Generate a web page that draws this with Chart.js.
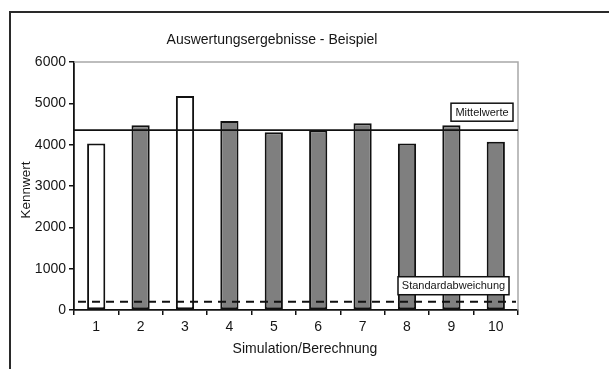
<!DOCTYPE html>
<html>
<head>
<meta charset="utf-8">
<script src="https://cdn.jsdelivr.net/npm/chart.js@4/dist/chart.umd.min.js"></script>
<style>
  html, body { margin: 0; padding: 0; background: #fff; }
  #wrap { position: relative; width: 609px; height: 369px; overflow: hidden; }
  #frame { position: absolute; left: 9px; top: 11px; width: 700px; height: 500px;
           border-left: 2px solid #2a2a2a; border-top: 2px solid #2a2a2a; }
  canvas { position: absolute; left: 0; top: 0; }
</style>
</head>
<body>
<div id="wrap">
  <div id="frame"></div>
  <canvas id="c" width="609" height="369"></canvas>
</div>
<script>
// Ergebnisse der einzelnen Simulationen
const kategorien = ['1', '2', '3', '4', '5', '6', '7', '8', '9', '10'];
const kennwerte = [4030, 4470, 5180, 4570, 4300, 4350, 4520, 4030, 4470, 4070];
// Läufe, die nicht in die Auswertung eingehen (weiße Balken)
const ausgeschlossen = ['1', '3'];
const mittelwert = 4350;
const standardabweichung = 200;
const yTicks = [0, 1000, 2000, 3000, 4000, 5000, 6000];

const FONT = '"Liberation Sans", Arial, sans-serif';
const TEXT = '#151515';

const fuellung = kategorien.map(k => ausgeschlossen.includes(k) ? '#ffffff' : '#7f7f7f');

// Referenzlinien, Rahmen und Beschriftungen
const deko = {
  id: 'deko',
  beforeDatasetsDraw(chart) {
    const { ctx, chartArea: a } = chart;
    ctx.save();
    ctx.strokeStyle = '#a8a8a8';
    ctx.lineWidth = 1.5;
    ctx.beginPath();
    ctx.moveTo(a.left, a.top);
    ctx.lineTo(a.right, a.top);
    ctx.lineTo(a.right, a.bottom);
    ctx.stroke();
    ctx.restore();
  },
  afterDatasetsDraw(chart) {
    const { ctx, chartArea: a, scales } = chart;
    const y = scales.y;
    const yM = y.getPixelForValue(mittelwert);
    const yS = y.getPixelForValue(standardabweichung);
    ctx.save();
    ctx.strokeStyle = '#111';
    ctx.lineWidth = 1.8;
    ctx.beginPath();
    ctx.moveTo(a.left, yM);
    ctx.lineTo(a.right, yM);
    ctx.stroke();
    ctx.setLineDash([8, 6]);
    ctx.beginPath();
    ctx.moveTo(a.left + 4, yS);
    ctx.lineTo(a.right - 2, yS);
    ctx.stroke();
    ctx.setLineDash([]);

    const box = (text, right, bottom, w, h) => {
      ctx.fillStyle = '#fff';
      ctx.fillRect(right - w, bottom - h, w, h);
      ctx.strokeStyle = '#111';
      ctx.lineWidth = 1.5;
      ctx.strokeRect(right - w, bottom - h, w, h);
      ctx.fillStyle = TEXT;
      ctx.font = '11px ' + FONT;
      ctx.textAlign = 'center';
      ctx.textBaseline = 'middle';
      ctx.fillText(text, right - w / 2, bottom - h / 2 + 0.5);
    };
    box('Mittelwerte', a.right - 5, yM - 9, 62, 18);
    box('Standardabweichung', a.right - 9, yS - 7, 111, 18);

    // Titel und Achsentitel
    ctx.fillStyle = TEXT;
    ctx.textAlign = 'center';
    ctx.textBaseline = 'middle';
    ctx.font = '14px ' + FONT;
    ctx.fillText('Auswertungsergebnisse - Beispiel', 272, 40);
    ctx.fillText('Simulation/Berechnung', 305, 349);
    ctx.save();
    ctx.translate(26, 190);
    ctx.rotate(-Math.PI / 2);
    ctx.font = '13.5px ' + FONT;
    ctx.fillText('Kennwert', 0, 0);
    ctx.restore();
    ctx.restore();
  }
};

new Chart(document.getElementById('c'), {
  type: 'bar',
  data: {
    labels: kategorien,
    datasets: [{
      data: kennwerte,
      backgroundColor: fuellung,
      borderColor: '#111',
      borderWidth: 2,
      borderSkipped: false,
      categoryPercentage: 1,
      barPercentage: 0.41
    }]
  },
  options: {
    responsive: false,
    devicePixelRatio: 1,
    animation: false,
    layout: { padding: { left: 0, top: 62, right: 91, bottom: 0 } },
    plugins: { legend: { display: false }, tooltip: { enabled: false }, title: { display: false } },
    scales: {
      x: {
        offset: true,
        grid: { offset: true, drawOnChartArea: false, tickLength: 5, color: '#111', lineWidth: 1.5 },
        border: { display: true, color: '#111', width: 1.8 },
        ticks: { color: TEXT, font: { family: FONT, size: 14 }, padding: 4, maxRotation: 0 },
        afterFit(s) { s.height = 59; }
      },
      y: {
        min: 0, max: 6000,
        afterBuildTicks(s) { s.ticks = yTicks.map(v => ({ value: v })); },
        grid: { drawOnChartArea: false, tickLength: 5, color: '#111', lineWidth: 1.5 },
        border: { display: true, color: '#111', width: 1.8 },
        ticks: { color: TEXT, font: { family: FONT, size: 14 }, padding: 3,
                 callback: v => String(v) },
        afterFit(s) { s.width = 74; }
      }
    }
  },
  plugins: [deko]
});
</script>
</body>
</html>
